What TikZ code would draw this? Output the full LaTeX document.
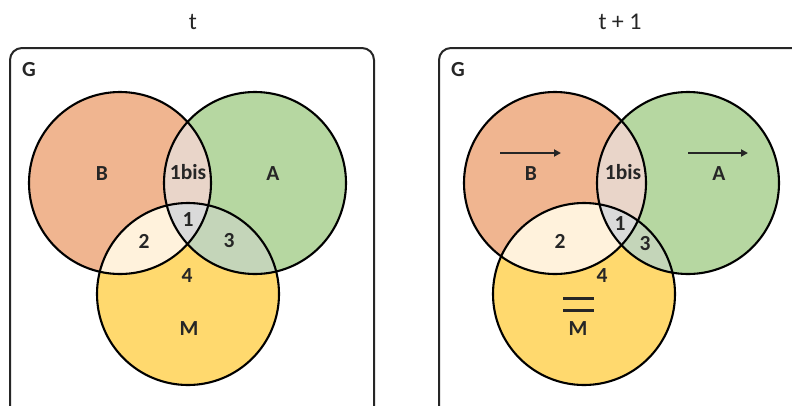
\documentclass[tikz,border=0pt]{standalone}
\usepackage{fontspec}
\setmainfont{Carlito}
\usetikzlibrary{arrows.meta}
\definecolor{cB}{HTML}{F0B590}
\definecolor{cA}{HTML}{B6D7A1}
\definecolor{cM}{HTML}{FFD96E}
\definecolor{cAB}{HTML}{E9D5C9}
\definecolor{cABM}{HTML}{DADADA}
\definecolor{cBM}{HTML}{FFF2DC}
\definecolor{cAM}{HTML}{C4D5B9}
\definecolor{ink}{HTML}{262626}
\tikzset{
  lbl/.style={font=\fontsize{21.5}{25}\selectfont\bfseries, text=ink, inner sep=0pt},
  ttl/.style={font=\fontsize{24}{28}\selectfont, text=ink, inner sep=0pt},
  frame/.style={draw=ink, line width=2pt, rounded corners=12pt},
  outline/.style={draw=black, line width=2.1pt},
  motion/.style={draw=ink, line width=2pt, -{Triangle[length=7pt,width=7pt]}},
  bar/.style={draw=ink, line width=3pt}
}
\newcommand{\venn}[3]{%
  \fill[cB] (#1) circle (91);
  \fill[cA] (#2) circle (91);
  \fill[cM] (#3) circle (91);
  \begin{scope}\clip (#1) circle (91); \fill[cAB] (#2) circle (91); \end{scope}
  \begin{scope}\clip (#1) circle (91); \fill[cBM] (#3) circle (91); \end{scope}
  \begin{scope}\clip (#2) circle (91); \fill[cAM] (#3) circle (91); \end{scope}
  \begin{scope}\clip (#1) circle (91); \clip (#2) circle (91); \fill[cABM] (#3) circle (91); \end{scope}
  \draw[outline] (#1) circle (91);
  \draw[outline] (#2) circle (91);
  \draw[outline] (#3) circle (91);
}
\begin{document}
\begin{tikzpicture}[x=1pt,y=-1pt]
\useasboundingbox (0,0) rectangle (792,405);
% ---------- left panel ----------
\node[ttl] (tL) at (193,22) {t};
\draw[frame] (10,420) -- (10,48) -- (374,48) -- (374,420);
\node[lbl] (gL) at (29,70) {G};
\coordinate (bL) at (120,183);
\coordinate (aL) at (255,183);
\coordinate (mL) at (188,294);
\venn{bL}{aL}{mL}
\node[lbl] (BL) at (102,174) {B};
\node[lbl] (AL) at (273,174) {A};
\node[lbl] (ML) at (189,329) {M};
\node[lbl] (r1bisL) at (188,172) {1bis};
\node[lbl] (r1L) at (188,220) {1};
\node[lbl] (r2L) at (144,241) {2};
\node[lbl] (r3L) at (229,241) {3};
\node[lbl] (r4L) at (187,276) {4};
% ---------- right panel ----------
\node[ttl] (tR) at (620,22) {t + 1};
\draw[frame] (439,420) -- (439,48) -- (810,48);
\node[lbl] (gR) at (458,70) {G};
\coordinate (bR) at (555,183);
\coordinate (aR) at (688,183);
\coordinate (mR) at (584,294);
\venn{bR}{aR}{mR}
\node[lbl] (BR) at (531,174) {B};
\node[lbl] (AR) at (719,174) {A};
\node[lbl] (MR) at (578,329) {M};
\node[lbl] (r1bisR) at (623,172) {1bis};
\node[lbl] (r1R) at (620,224) {1};
\node[lbl] (r2R) at (560,241) {2};
\node[lbl] (r3R) at (645,244) {3};
\node[lbl] (r4R) at (602,276) {4};
\coordinate (arBs) at (500,153); \coordinate (arBe) at (561,153);
\coordinate (arAs) at (688,153); \coordinate (arAe) at (748,153);
\draw[motion] (arBs) -- (arBe);
\draw[motion] (arAs) -- (arAe);
\coordinate (eq1s) at (563,298); \coordinate (eq1e) at (594,298);
\coordinate (eq2s) at (563,310); \coordinate (eq2e) at (594,310);
\draw[bar] (eq1s) -- (eq1e);
\draw[bar] (eq2s) -- (eq2e);
\end{tikzpicture}
\end{document}
